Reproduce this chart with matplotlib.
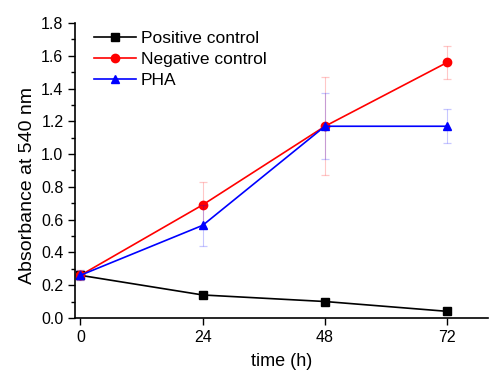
import numpy as np
import matplotlib
matplotlib.use("Agg")
import matplotlib.pyplot as plt
from matplotlib.ticker import MultipleLocator

plt.rcParams['font.family'] = ['Liberation Sans', 'DejaVu Sans']

time_h = [0, 24, 48, 72]
positive = [0.26, 0.14, 0.10, 0.04]
positive_err = [0.02, 0.01, 0.01, 0.01]
negative = [0.26, 0.69, 1.17, 1.56]
negative_err = [0.03, 0.14, 0.30, 0.10]
pha = [0.26, 0.565, 1.17, 1.17]
pha_err = [0.03, 0.125, 0.20, 0.105]

fig = plt.figure(figsize=(4.95, 3.78), dpi=100)
ax = fig.add_axes([0.152, 0.159, 0.834, 0.78])

series = [
    (positive, positive_err, 'black', 's', 'Positive control'),
    (negative, negative_err, 'red', 'o', 'Negative control'),
    (pha, pha_err, 'blue', '^', 'PHA'),
]
for vals, err, col, mk, lab in series:
    ax.errorbar(time_h, vals, yerr=err, fmt='none', ecolor=col, alpha=0.22,
                elinewidth=0.8, capsize=3, capthick=0.9)
    ax.plot(time_h, vals, color=col, marker=mk, markersize=6, linewidth=1.2, label=lab)

ax.set_xlim(-1, 80)
ax.set_ylim(0, 1.8)
ax.set_xticks(time_h)
ax.yaxis.set_major_locator(MultipleLocator(0.2))
ax.yaxis.set_minor_locator(MultipleLocator(0.1))
ax.yaxis.set_major_formatter(plt.FormatStrFormatter('%.1f'))
ax.spines['top'].set_visible(False)
ax.spines['right'].set_visible(False)
ax.spines['left'].set_linewidth(1.2)
ax.spines['bottom'].set_linewidth(1.2)
ax.tick_params(axis='both', labelsize=11.5, direction='out', length=5, width=1)
ax.tick_params(axis='y', which='minor', length=3, width=1)

ax.set_xlabel('time (h)', fontsize=13, labelpad=6)
ax.set_ylabel('Absorbance at 540 nm', fontsize=14, labelpad=6)
ax.yaxis.set_label_coords(-0.095, 0.45)
ax.legend(loc='upper left', bbox_to_anchor=(0.02, 1.01), frameon=False, fontsize=12.5,
          handlelength=2.4, handletextpad=0.3, labelspacing=0.35, borderaxespad=0.2)

fig.savefig('out.png', dpi=100)
